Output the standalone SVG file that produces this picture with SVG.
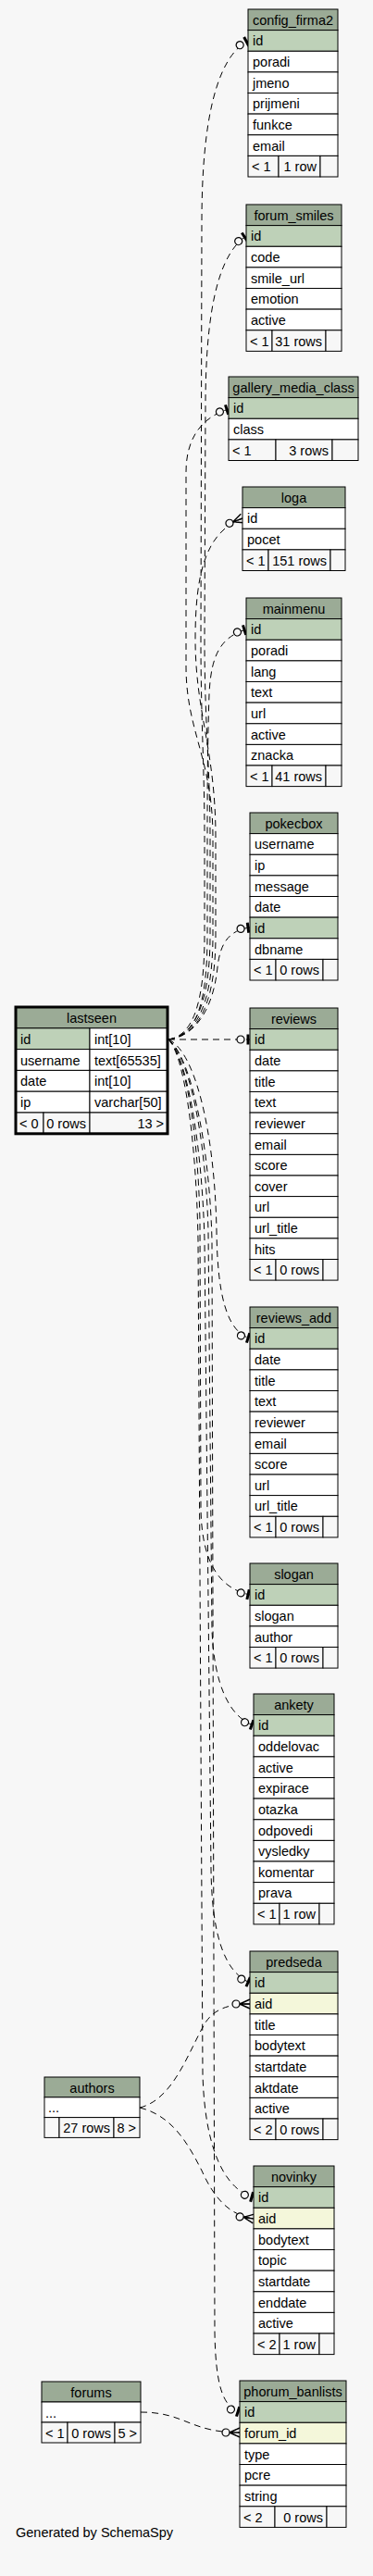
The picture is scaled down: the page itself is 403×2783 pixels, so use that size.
<svg xmlns="http://www.w3.org/2000/svg" width="403" height="2783" viewBox="0 0 403 2783">
<style>
.c{stroke:#000;stroke-width:1}
.h{fill:#9bab96}
.p{fill:#bed1b8}
.f{fill:#f4f7da}
.w{fill:#fff}
.g{fill:#f7f7f7}
text{font-family:"Liberation Sans",Arial,Helvetica,sans-serif;font-size:14.5px;fill:#000}
.m{text-anchor:middle}
.e{text-anchor:end}
.edge{fill:none;stroke:#000;stroke-width:1;stroke-dasharray:7,5}
</style>
<defs>
<marker id="one" markerUnits="userSpaceOnUse" markerWidth="24" markerHeight="16" viewBox="-18 -8 24 16" refX="0" refY="0" orient="auto" overflow="visible">
<circle cx="-10" cy="0" r="4" fill="#f7f7f7" stroke="#000" stroke-width="1.2" stroke-dasharray="none"/>
<rect x="-3.5" y="-5.5" width="3" height="11" fill="#000" stroke="none"/>
</marker>
<marker id="many" markerUnits="userSpaceOnUse" markerWidth="24" markerHeight="16" viewBox="-20 -8 24 16" refX="0" refY="0" orient="auto" overflow="visible">
<circle cx="-15" cy="0" r="4" fill="#f7f7f7" stroke="#000" stroke-width="1.2" stroke-dasharray="none"/>
<path d="M-11,0 L0,-5 M-11,0 L0,5 M-11,0 L0,0" fill="none" stroke="#000" stroke-width="1.4" stroke-dasharray="none"/>
</marker>
</defs>
<rect x="0" y="0" width="403" height="2783" fill="#f7f7f7"/>

<g id="connectors">
<path class="edge" marker-end="url(#one)" d="M182,1123 C208,1119 221,1085 221,1010 L221,905 C221,830 217,780 217,690 L218,240 C218,130 234,62 268,44"/>
<path class="edge" marker-end="url(#one)" d="M182,1123 C210,1119 227,1085 227,1010 L227,905 C227,830 221,780 221,690 L222,440 C222,335 236,275 266,255"/>
<path class="edge" marker-end="url(#one)" d="M182,1123 C212,1119 230,1085 230,1010 L230,905 C230,820 201,790 201,720 L201,510 C201,478 214,452 247,442"/>
<path class="edge" marker-end="url(#many)" d="M182,1123 C214,1119 233,1085 233,1010 L233,905 C233,810 211,770 211,690 C211,620 222,575 262,560"/>
<path class="edge" marker-end="url(#one)" d="M182,1123 C212,1119 224,1085 224,1010 L224,905 C224,820 225,780 226,750 C228,705 240,688 266,680"/>
<path class="edge" marker-end="url(#one)" d="M182,1123 C214,1119 231,1085 235,1045 C238,1018 248,1005 270,1002"/>
<path class="edge" marker-end="url(#one)" d="M182,1123 L270,1123"/>
<path class="edge" marker-end="url(#one)" d="M182,1123 C210,1135 232,1220 234,1330 C235,1400 245,1438 270,1446"/>
<path class="edge" marker-end="url(#one)" d="M182,1123 C200,1140 214,1220 216,1320 L217,1630 C218,1690 238,1716 270,1723"/>
<path class="edge" marker-end="url(#one)" d="M182,1123 C203,1140 222,1220 225,1330 L229,1760 C231,1820 248,1855 274,1864"/>
<path class="edge" marker-end="url(#one)" d="M182,1123 C201,1140 218,1230 221,1340 L228,2020 C229,2090 242,2130 270,2142"/>
<path class="edge" marker-end="url(#one)" d="M182,1123 C199,1140 212,1230 214,1340 L219,2240 C221,2320 242,2365 274,2374"/>
<path class="edge" marker-end="url(#one)" d="M182,1123 C205,1140 226,1230 229,1340 L232,2520 C233,2575 240,2600 259,2606"/>
<path class="edge" marker-end="url(#many)" d="M151,2277 C188,2268 204,2215 222,2185 C232,2170 248,2165 270,2165"/>
<path class="edge" marker-end="url(#many)" d="M151,2277 C188,2286 205,2320 218,2345 C230,2372 246,2393 274,2397"/>
<path class="edge" marker-end="url(#many)" d="M152,2606 C200,2606 205,2628 259,2628"/>
</g>

<g id="config_firma2">
<rect class="c h" x="268" y="10" width="97" height="22.6"/><text class="m" x="316.5" y="26.8">config_firma2</text>
<rect class="c p" x="268" y="32.6" width="97" height="22.7"/><text x="273" y="49.4">id</text>
<rect class="c w" x="268" y="55.3" width="97" height="22.6"/><text x="273" y="72.1">poradi</text>
<rect class="c w" x="268" y="77.9" width="97" height="22.6"/><text x="273" y="94.7">jmeno</text>
<rect class="c w" x="268" y="100.5" width="97" height="22.6"/><text x="273" y="117.3">prijmeni</text>
<rect class="c w" x="268" y="123.1" width="97" height="22.7"/><text x="273" y="139.9">funkce</text>
<rect class="c w" x="268" y="145.8" width="97" height="22.6"/><text x="273" y="162.6">email</text>
<rect class="c g" x="268" y="168.4" width="33" height="22.6"/><rect class="c g" x="301" y="168.4" width="45" height="22.6"/><rect class="c g" x="346" y="168.4" width="19" height="22.6"/>
<text x="272" y="185.2">&lt; 1</text><text class="e" x="342" y="185.2">1 row</text>
</g>

<g id="forum_smiles">
<rect class="c h" x="266" y="221" width="103" height="22.6"/><text class="m" x="317.5" y="237.8">forum_smiles</text>
<rect class="c p" x="266" y="243.6" width="103" height="22.7"/><text x="271" y="260.4">id</text>
<rect class="c w" x="266" y="266.3" width="103" height="22.6"/><text x="271" y="283.1">code</text>
<rect class="c w" x="266" y="288.9" width="103" height="22.6"/><text x="271" y="305.7">smile_url</text>
<rect class="c w" x="266" y="311.5" width="103" height="22.6"/><text x="271" y="328.3">emotion</text>
<rect class="c w" x="266" y="334.1" width="103" height="22.7"/><text x="271" y="350.9">active</text>
<rect class="c g" x="266" y="356.8" width="28" height="22.6"/><rect class="c g" x="294" y="356.8" width="58" height="22.6"/><rect class="c g" x="352" y="356.8" width="17" height="22.6"/>
<text x="270" y="373.6">&lt; 1</text><text class="e" x="348" y="373.6">31 rows</text>
</g>

<g id="gallery_media_class">
<rect class="c h" x="247" y="407" width="140" height="22.6"/><text class="m" x="317" y="423.8">gallery_media_class</text>
<rect class="c p" x="247" y="429.6" width="140" height="22.7"/><text x="252" y="446.4">id</text>
<rect class="c w" x="247" y="452.3" width="140" height="22.6"/><text x="252" y="469.1">class</text>
<rect class="c g" x="247" y="474.9" width="51" height="22.6"/><rect class="c g" x="298" y="474.9" width="61" height="22.6"/><rect class="c g" x="359" y="474.9" width="28" height="22.6"/>
<text x="251" y="491.7">&lt; 1</text><text class="e" x="355" y="491.7">3 rows</text>
</g>

<g id="loga">
<rect class="c h" x="262" y="526" width="111" height="22.6"/><text class="m" x="317.5" y="542.8">loga</text>
<rect class="c w" x="262" y="548.6" width="111" height="22.7"/><text x="267" y="565.4">id</text>
<rect class="c w" x="262" y="571.3" width="111" height="22.6"/><text x="267" y="588.1">pocet</text>
<rect class="c g" x="262" y="593.9" width="28" height="22.6"/><rect class="c g" x="290" y="593.9" width="67" height="22.6"/><rect class="c g" x="357" y="593.9" width="16" height="22.6"/>
<text x="266" y="610.7">&lt; 1</text><text class="e" x="353" y="610.7">151 rows</text>
</g>

<g id="mainmenu">
<rect class="c h" x="266" y="646" width="103" height="22.6"/><text class="m" x="317.5" y="662.8">mainmenu</text>
<rect class="c p" x="266" y="668.6" width="103" height="22.7"/><text x="271" y="685.4">id</text>
<rect class="c w" x="266" y="691.3" width="103" height="22.6"/><text x="271" y="708.1">poradi</text>
<rect class="c w" x="266" y="713.9" width="103" height="22.6"/><text x="271" y="730.7">lang</text>
<rect class="c w" x="266" y="736.5" width="103" height="22.6"/><text x="271" y="753.3">text</text>
<rect class="c w" x="266" y="759.1" width="103" height="22.7"/><text x="271" y="775.9">url</text>
<rect class="c w" x="266" y="781.8" width="103" height="22.6"/><text x="271" y="798.6">active</text>
<rect class="c w" x="266" y="804.4" width="103" height="22.6"/><text x="271" y="821.2">znacka</text>
<rect class="c g" x="266" y="827" width="28" height="22.6"/><rect class="c g" x="294" y="827" width="58" height="22.6"/><rect class="c g" x="352" y="827" width="17" height="22.6"/>
<text x="270" y="843.8">&lt; 1</text><text class="e" x="348" y="843.8">41 rows</text>
</g>

<g id="pokecbox">
<rect class="c h" x="270" y="878" width="95" height="22.6"/><text class="m" x="317.5" y="894.8">pokecbox</text>
<rect class="c w" x="270" y="900.6" width="95" height="22.7"/><text x="275" y="917.4">username</text>
<rect class="c w" x="270" y="923.3" width="95" height="22.6"/><text x="275" y="940.1">ip</text>
<rect class="c w" x="270" y="945.9" width="95" height="22.6"/><text x="275" y="962.7">message</text>
<rect class="c w" x="270" y="968.5" width="95" height="22.6"/><text x="275" y="985.3">date</text>
<rect class="c p" x="270" y="991.1" width="95" height="22.7"/><text x="275" y="1007.9">id</text>
<rect class="c w" x="270" y="1013.8" width="95" height="22.6"/><text x="275" y="1030.6">dbname</text>
<rect class="c g" x="270" y="1036.4" width="28" height="22.6"/><rect class="c g" x="298" y="1036.4" width="51" height="22.6"/><rect class="c g" x="349" y="1036.4" width="16" height="22.6"/>
<text x="274" y="1053.2">&lt; 1</text><text class="e" x="345" y="1053.2">0 rows</text>
</g>

<g id="reviews">
<rect class="c h" x="270" y="1089" width="95" height="22.6"/><text class="m" x="317.5" y="1105.8">reviews</text>
<rect class="c p" x="270" y="1111.6" width="95" height="22.7"/><text x="275" y="1128.4">id</text>
<rect class="c w" x="270" y="1134.3" width="95" height="22.6"/><text x="275" y="1151.1">date</text>
<rect class="c w" x="270" y="1156.9" width="95" height="22.6"/><text x="275" y="1173.7">title</text>
<rect class="c w" x="270" y="1179.5" width="95" height="22.6"/><text x="275" y="1196.3">text</text>
<rect class="c w" x="270" y="1202.1" width="95" height="22.7"/><text x="275" y="1218.9">reviewer</text>
<rect class="c w" x="270" y="1224.8" width="95" height="22.6"/><text x="275" y="1241.6">email</text>
<rect class="c w" x="270" y="1247.4" width="95" height="22.6"/><text x="275" y="1264.2">score</text>
<rect class="c w" x="270" y="1270" width="95" height="22.6"/><text x="275" y="1286.8">cover</text>
<rect class="c w" x="270" y="1292.6" width="95" height="22.7"/><text x="275" y="1309.4">url</text>
<rect class="c w" x="270" y="1315.3" width="95" height="22.6"/><text x="275" y="1332.1">url_title</text>
<rect class="c w" x="270" y="1337.9" width="95" height="22.6"/><text x="275" y="1354.7">hits</text>
<rect class="c g" x="270" y="1360.5" width="28" height="22.6"/><rect class="c g" x="298" y="1360.5" width="51" height="22.6"/><rect class="c g" x="349" y="1360.5" width="16" height="22.6"/>
<text x="274" y="1377.3">&lt; 1</text><text class="e" x="345" y="1377.3">0 rows</text>
</g>

<g id="reviews_add">
<rect class="c h" x="270" y="1412" width="95" height="22.6"/><text class="m" x="317.5" y="1428.8">reviews_add</text>
<rect class="c p" x="270" y="1434.6" width="95" height="22.7"/><text x="275" y="1451.4">id</text>
<rect class="c w" x="270" y="1457.3" width="95" height="22.6"/><text x="275" y="1474.1">date</text>
<rect class="c w" x="270" y="1479.9" width="95" height="22.6"/><text x="275" y="1496.7">title</text>
<rect class="c w" x="270" y="1502.5" width="95" height="22.6"/><text x="275" y="1519.3">text</text>
<rect class="c w" x="270" y="1525.1" width="95" height="22.7"/><text x="275" y="1541.9">reviewer</text>
<rect class="c w" x="270" y="1547.8" width="95" height="22.6"/><text x="275" y="1564.6">email</text>
<rect class="c w" x="270" y="1570.4" width="95" height="22.6"/><text x="275" y="1587.2">score</text>
<rect class="c w" x="270" y="1593" width="95" height="22.6"/><text x="275" y="1609.8">url</text>
<rect class="c w" x="270" y="1615.6" width="95" height="22.7"/><text x="275" y="1632.4">url_title</text>
<rect class="c g" x="270" y="1638.3" width="28" height="22.6"/><rect class="c g" x="298" y="1638.3" width="51" height="22.6"/><rect class="c g" x="349" y="1638.3" width="16" height="22.6"/>
<text x="274" y="1655.1">&lt; 1</text><text class="e" x="345" y="1655.1">0 rows</text>
</g>

<g id="slogan">
<rect class="c h" x="270" y="1689" width="95" height="22.6"/><text class="m" x="317.5" y="1705.8">slogan</text>
<rect class="c p" x="270" y="1711.6" width="95" height="22.7"/><text x="275" y="1728.4">id</text>
<rect class="c w" x="270" y="1734.3" width="95" height="22.6"/><text x="275" y="1751.1">slogan</text>
<rect class="c w" x="270" y="1756.9" width="95" height="22.6"/><text x="275" y="1773.7">author</text>
<rect class="c g" x="270" y="1779.5" width="28" height="22.6"/><rect class="c g" x="298" y="1779.5" width="51" height="22.6"/><rect class="c g" x="349" y="1779.5" width="16" height="22.6"/>
<text x="274" y="1796.3">&lt; 1</text><text class="e" x="345" y="1796.3">0 rows</text>
</g>

<g id="ankety">
<rect class="c h" x="274" y="1830" width="87" height="22.6"/><text class="m" x="317.5" y="1846.8">ankety</text>
<rect class="c p" x="274" y="1852.6" width="87" height="22.7"/><text x="279" y="1869.4">id</text>
<rect class="c w" x="274" y="1875.3" width="87" height="22.6"/><text x="279" y="1892.1">oddelovac</text>
<rect class="c w" x="274" y="1897.9" width="87" height="22.6"/><text x="279" y="1914.7">active</text>
<rect class="c w" x="274" y="1920.5" width="87" height="22.6"/><text x="279" y="1937.3">expirace</text>
<rect class="c w" x="274" y="1943.1" width="87" height="22.7"/><text x="279" y="1959.9">otazka</text>
<rect class="c w" x="274" y="1965.8" width="87" height="22.6"/><text x="279" y="1982.6">odpovedi</text>
<rect class="c w" x="274" y="1988.4" width="87" height="22.6"/><text x="279" y="2005.2">vysledky</text>
<rect class="c w" x="274" y="2011" width="87" height="22.6"/><text x="279" y="2027.8">komentar</text>
<rect class="c w" x="274" y="2033.6" width="87" height="22.7"/><text x="279" y="2050.4">prava</text>
<rect class="c g" x="274" y="2056.3" width="28" height="22.6"/><rect class="c g" x="302" y="2056.3" width="43" height="22.6"/><rect class="c g" x="345" y="2056.3" width="16" height="22.6"/>
<text x="278" y="2073.1">&lt; 1</text><text class="e" x="341" y="2073.1">1 row</text>
</g>

<g id="predseda">
<rect class="c h" x="270" y="2108" width="95" height="22.6"/><text class="m" x="317.5" y="2124.8">predseda</text>
<rect class="c p" x="270" y="2130.6" width="95" height="22.7"/><text x="275" y="2147.4">id</text>
<rect class="c f" x="270" y="2153.3" width="95" height="22.6"/><text x="275" y="2170.1">aid</text>
<rect class="c w" x="270" y="2175.9" width="95" height="22.6"/><text x="275" y="2192.7">title</text>
<rect class="c w" x="270" y="2198.5" width="95" height="22.6"/><text x="275" y="2215.3">bodytext</text>
<rect class="c w" x="270" y="2221.1" width="95" height="22.7"/><text x="275" y="2237.9">startdate</text>
<rect class="c w" x="270" y="2243.8" width="95" height="22.6"/><text x="275" y="2260.6">aktdate</text>
<rect class="c w" x="270" y="2266.4" width="95" height="22.6"/><text x="275" y="2283.2">active</text>
<rect class="c g" x="270" y="2289" width="28" height="22.6"/><rect class="c g" x="298" y="2289" width="51" height="22.6"/><rect class="c g" x="349" y="2289" width="16" height="22.6"/>
<text x="274" y="2305.8">&lt; 2</text><text class="e" x="345" y="2305.8">0 rows</text>
</g>

<g id="novinky">
<rect class="c h" x="274" y="2340" width="87" height="22.6"/><text class="m" x="317.5" y="2356.8">novinky</text>
<rect class="c p" x="274" y="2362.6" width="87" height="22.7"/><text x="279" y="2379.4">id</text>
<rect class="c f" x="274" y="2385.3" width="87" height="22.6"/><text x="279" y="2402.1">aid</text>
<rect class="c w" x="274" y="2407.9" width="87" height="22.6"/><text x="279" y="2424.7">bodytext</text>
<rect class="c w" x="274" y="2430.5" width="87" height="22.6"/><text x="279" y="2447.3">topic</text>
<rect class="c w" x="274" y="2453.1" width="87" height="22.7"/><text x="279" y="2469.9">startdate</text>
<rect class="c w" x="274" y="2475.8" width="87" height="22.6"/><text x="279" y="2492.6">enddate</text>
<rect class="c w" x="274" y="2498.4" width="87" height="22.6"/><text x="279" y="2515.2">active</text>
<rect class="c g" x="274" y="2521" width="28" height="22.6"/><rect class="c g" x="302" y="2521" width="43" height="22.6"/><rect class="c g" x="345" y="2521" width="16" height="22.6"/>
<text x="278" y="2537.8">&lt; 2</text><text class="e" x="341" y="2537.8">1 row</text>
</g>

<g id="phorum_banlists">
<rect class="c h" x="259" y="2572" width="115" height="22.6"/><text class="m" x="316.5" y="2588.8">phorum_banlists</text>
<rect class="c p" x="259" y="2594.6" width="115" height="22.7"/><text x="264" y="2611.4">id</text>
<rect class="c f" x="259" y="2617.3" width="115" height="22.6"/><text x="264" y="2634.1">forum_id</text>
<rect class="c w" x="259" y="2639.9" width="115" height="22.6"/><text x="264" y="2656.7">type</text>
<rect class="c w" x="259" y="2662.5" width="115" height="22.6"/><text x="264" y="2679.3">pcre</text>
<rect class="c w" x="259" y="2685.1" width="115" height="22.7"/><text x="264" y="2701.9">string</text>
<rect class="c g" x="259" y="2707.8" width="38" height="22.6"/><rect class="c g" x="297" y="2707.8" width="56" height="22.6"/><rect class="c g" x="353" y="2707.8" width="21" height="22.6"/>
<text x="263" y="2724.6">&lt; 2</text><text class="e" x="349" y="2724.6">0 rows</text>
</g>

<g id="lastseen">
<rect class="c h" x="17" y="1088" width="164" height="22.8"/><text class="m" x="99" y="1104.9">lastseen</text>
<rect class="c p" x="17" y="1110.8" width="80" height="22.8"/><rect class="c w" x="97" y="1110.8" width="84" height="22.8"/>
<text x="22" y="1127.7">id</text><text x="102" y="1127.7">int[10]</text>
<rect class="c w" x="17" y="1133.6" width="80" height="22.8"/><rect class="c w" x="97" y="1133.6" width="84" height="22.8"/>
<text x="22" y="1150.5">username</text><text x="102" y="1150.5">text[65535]</text>
<rect class="c w" x="17" y="1156.4" width="80" height="22.8"/><rect class="c w" x="97" y="1156.4" width="84" height="22.8"/>
<text x="22" y="1173.3">date</text><text x="102" y="1173.3">int[10]</text>
<rect class="c w" x="17" y="1179.2" width="80" height="22.8"/><rect class="c w" x="97" y="1179.2" width="84" height="22.8"/>
<text x="22" y="1196.1">ip</text><text x="102" y="1196.1">varchar[50]</text>
<rect class="c g" x="17" y="1202" width="30" height="22.8"/><rect class="c g" x="47" y="1202" width="50" height="22.8"/><rect class="c g" x="97" y="1202" width="84" height="22.8"/>
<text x="21" y="1218.9">&lt; 0</text><text class="e" x="93" y="1218.9">0 rows</text><text class="e" x="177" y="1218.9">13 &gt;</text>
<rect x="17" y="1088" width="164" height="136.8" fill="none" stroke="#000" stroke-width="3"/>
</g>

<g id="authors">
<rect class="c h" x="48" y="2244" width="103" height="21.8"/><text class="m" x="99.5" y="2260.6">authors</text>
<rect class="c w" x="48" y="2265.8" width="103" height="21.8"/><text x="52" y="2282.4">...</text>
<rect class="c g" x="48" y="2287.6" width="16" height="21.8"/><rect class="c g" x="64" y="2287.6" width="59" height="21.8"/><rect class="c g" x="123" y="2287.6" width="28" height="21.8"/>
<text class="e" x="119" y="2304.2">27 rows</text><text class="e" x="147" y="2304.2">8 &gt;</text>
</g>

<g id="forums">
<rect class="c h" x="45" y="2573" width="107" height="22"/><text class="m" x="98.5" y="2589.8">forums</text>
<rect class="c w" x="45" y="2595" width="107" height="22"/><text x="49" y="2611.8">...</text>
<rect class="c g" x="45" y="2617" width="28" height="22"/><rect class="c g" x="73" y="2617" width="51" height="22"/><rect class="c g" x="124" y="2617" width="28" height="22"/>
<text x="49" y="2633.8">&lt; 1</text><text class="e" x="120" y="2633.8">0 rows</text><text class="e" x="148" y="2633.8">5 &gt;</text>
</g>

<text x="17" y="2741">Generated by SchemaSpy</text>
</svg>
